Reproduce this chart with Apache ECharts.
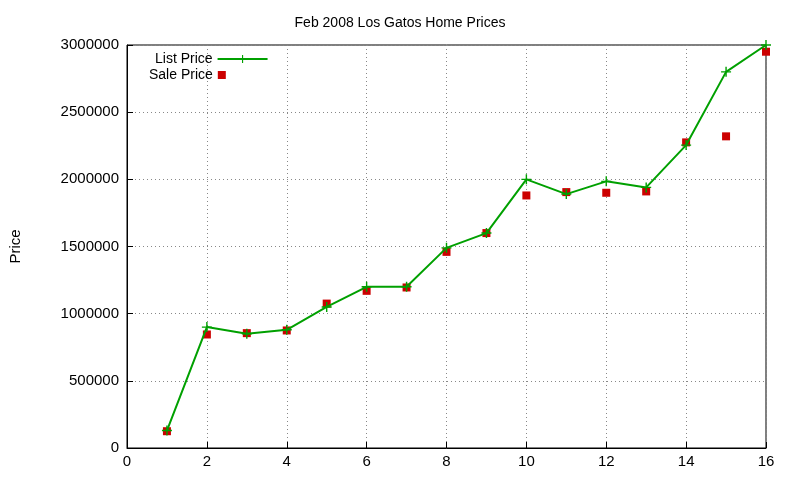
<!DOCTYPE html>
<html><head><meta charset="utf-8">
<script src="https://cdn.jsdelivr.net/npm/echarts@6/dist/echarts.min.js"></script>
<style>html,body{margin:0;padding:0;background:#fff}#c{width:800px;height:480px}</style>
</head><body><div id="c"></div>
<script>
const xs = [1,2,3,4,5,6,7,8,9,10,11,12,13,14,15,16];
const listPrice = [130000,900000,850000,880000,1050000,1200000,1200000,1490000,1600000,2000000,1890000,1985000,1940000,2255000,2800000,3000000];
const salePrice = [125000,845000,855000,875000,1075000,1170000,1195000,1460000,1600000,1880000,1905000,1900000,1910000,2275000,2320000,2950000];
const yTicks = [0,500000,1000000,1500000,2000000,2500000,3000000];
const chart = echarts.init(document.getElementById('c'));
const font = 'Liberation Sans, Arial, sans-serif';
const plus = 'path://M4.3,0H5.7V4.3H10V5.7H5.7V10H4.3V5.7H0V4.3H4.3Z';
const ts = {fontFamily:font,fontSize:14,color:'#000'};
chart.setOption({
  animation:false,
  title:{text:'Feb 2008 Los Gatos Home Prices',left:'center',top:11,textStyle:{fontFamily:font,fontSize:14,fontWeight:'normal',color:'#000'}},
  legend:[
    {orient:'vertical',left:150,top:47,align:'right',itemWidth:50,itemHeight:10,textStyle:ts,data:['List Price']},
    {orient:'vertical',left:144,top:63,align:'right',itemWidth:8,itemHeight:8,itemGap:5,textStyle:ts,data:['Sale Price']}
  ],
  grid:{left:120,right:34,top:45,bottom:32,show:true,borderColor:'#000',borderWidth:1},
  xAxis:{type:'value',min:0,max:16,interval:2,
    axisLine:{lineStyle:{color:'#000'}},axisTick:{inside:true,length:6,lineStyle:{color:'#000'}},
    axisLabel:{fontFamily:font,fontSize:15,color:'#000',margin:6},
    splitLine:{show:true,lineStyle:{type:[1,3],color:'#888'}}},
  yAxis:{type:'value',min:0,max:3000000,interval:500000,name:'Price',nameLocation:'middle',nameGap:104,
    nameTextStyle:{fontFamily:font,fontSize:15,color:'#000'},
    axisLine:{show:true,lineStyle:{color:'#000'}},axisTick:{inside:true,length:6,lineStyle:{color:'#000'}},
    axisLabel:{fontFamily:font,fontSize:15,color:'#000',margin:8,formatter:v=>yTicks.includes(v)?String(v):''},
    splitLine:{show:true,lineStyle:{type:[1,3],color:'#888'}}},
  series:[
    {name:'List Price',type:'line',data:xs.map((x,i)=>[x,listPrice[i]]),symbol:plus,symbolSize:10,
      lineStyle:{color:'#00a000',width:2},itemStyle:{color:'#00a000'},color:'#00a000'},
    {name:'Sale Price',type:'scatter',data:xs.map((x,i)=>[x,salePrice[i]]),symbol:'rect',symbolSize:8,
      itemStyle:{color:'#cc0000',opacity:1},color:'#cc0000'}
  ]
});
</script></body></html>
